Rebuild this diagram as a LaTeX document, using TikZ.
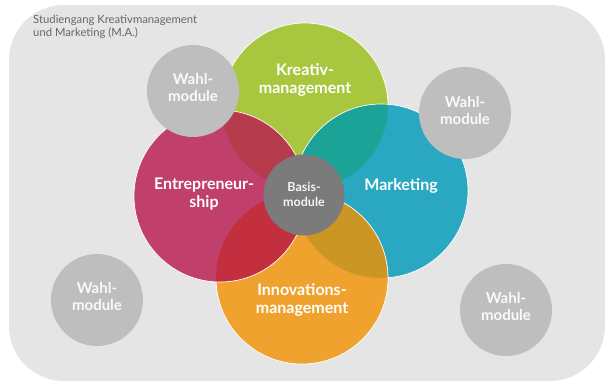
\documentclass[tikz,border=0pt]{standalone}
\usepackage{fontspec}
\setmainfont{Lato}
\definecolor{bgc}{HTML}{E5E5E5}
\definecolor{wahlc}{HTML}{BEBEBE}
\definecolor{basisc}{HTML}{7B7B7B}
\definecolor{cgreen}{HTML}{A8C63E}
\definecolor{cmag}{HTML}{C13F6B}
\definecolor{cblue}{HTML}{2BA8C1}
\definecolor{corange}{HTML}{F0A22E}
\definecolor{cGM}{HTML}{B63B4C}
\definecolor{cGB}{HTML}{1CA398}
\definecolor{cMO}{HTML}{C42F40}
\definecolor{cBO}{HTML}{CC9624}
\definecolor{titlec}{HTML}{666666}
\tikzset{
  wline/.style={draw=white, line width=0.7pt},
  wahl/.style={circle, fill=wahlc, minimum size=92pt, inner sep=0pt},
  basisnode/.style={circle, fill=basisc, minimum size=81pt, inner sep=0pt},
  wtext/.style={text=white!96!gray, align=center, inner sep=0pt, font=\fontsize{15}{17}\selectfont\bfseries},
  lab/.style={text=white, align=center, inner sep=0pt, font=\fontsize{16}{18.5}\selectfont\bfseries},
  btext/.style={text=white!92!gray, align=center, inner sep=0pt, font=\fontsize{12.5}{15}\selectfont\bfseries},
}
\begin{document}
\begin{tikzpicture}[x=1pt,y=-1pt]
\useasboundingbox (0,0) rectangle (607,384);
\fill[bgc, rounded corners=55pt] (9,5) rectangle (605,381);
\node[text=titlec, align=left, anchor=base west, inner sep=0pt, font=\fontsize{11.3}{12.5}\selectfont] (title) at (33,36) {Studiengang Kreativmanagement\\und Marketing (M.A.)};
\coordinate (G) at (305,106);
\coordinate (B) at (381,191);
\coordinate (O) at (302,278);
\coordinate (M) at (220,196);
% green
\fill[cgreen] (G) circle[radius=83];
\draw[wline] (G) circle[radius=83];
% blue
\fill[cblue] (B) circle[radius=87];
\begin{scope}
  \clip (B) circle[radius=87];
  \fill[cGB] (G) circle[radius=83];
\end{scope}
\draw[wline] (B) circle[radius=87];
% orange
\fill[corange] (O) circle[radius=86];
\begin{scope}
  \clip (O) circle[radius=86];
  \fill[cBO] (B) circle[radius=87];
\end{scope}
\draw[wline] (O) circle[radius=86];
% magenta
\fill[cmag] (M) circle[radius=86];
\begin{scope}
  \clip (M) circle[radius=86];
  \fill[cGM] (G) circle[radius=83];
  \fill[cMO] (O) circle[radius=86];
\end{scope}
\draw[wline] (M) circle[radius=86];
% labels
\node[lab] (kreativ) at (305,80) {Kreativ-\\management};
\node[lab] (entre) at (204,194) {Entrepreneur-\\ship};
\node[lab, anchor=base] (marketing) at (401,190) {Marketing};
\node[lab] (innov) at (302,300) {Innovations-\\management};
% basis
\node[basisnode] (basis) at (304,195) {};
\node[btext] (basist) at (304,194) {Basis-\\module};
% wahl
\node[wahl] (w1) at (193,91) {};
\node[wtext] (w1t) at (193,87) {Wahl-\\module};
\node[wahl] (w2) at (465,113) {};
\node[wtext] (w2t) at (465,110) {Wahl-\\module};
\node[wahl] (w3) at (97,300) {};
\node[wtext] (w3t) at (97,296) {Wahl-\\module};
\node[wahl] (w4) at (506,310) {};
\node[wtext] (w4t) at (506,306) {Wahl-\\module};
\end{tikzpicture}
\end{document}
